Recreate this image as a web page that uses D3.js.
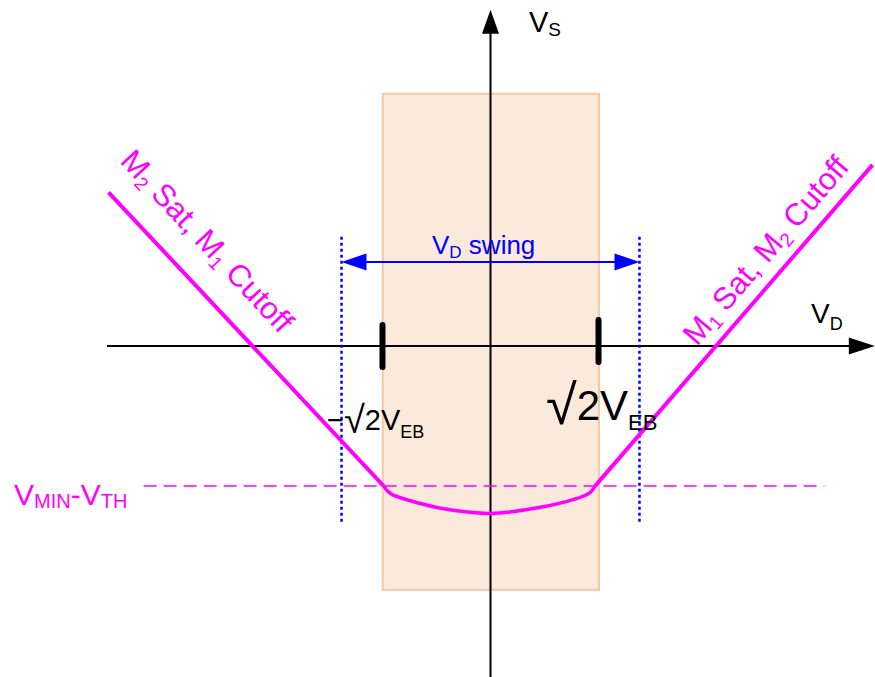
<!DOCTYPE html>
<html>
<head>
<meta charset="utf-8">
<script src="https://cdn.jsdelivr.net/npm/d3@7"></script>
<style>
  html, body { margin: 0; padding: 0; background: #ffffff; }
  svg { display: block; }
</style>
</head>
<body>
<svg id="chart" width="875" height="677"></svg>
<script>
// Transfer characteristic V_S versus V_D, in units of V_EB.

// Axis extents (data units)
const vdAxis = [-5.02, 5.03];
const vsAxis = [-4.33, 4.40];

// Overdrive markers at ±√2·V_EB
const vebTicks = [-1.414, 1.414];

// Shaded operating band (both devices saturated)
const bandVD = [-1.41, 1.42];
const bandVS = [-3.19, 3.30];

// Limits of the usable V_D swing and the swing arrow level
const swingLimits = [-1.95, 1.95];
const swingSpanVS = [-2.30, 1.43];
const swingArrowVS = 1.10;

// V_MIN - V_TH level and the extent of its guide line
const vminLevel = -1.83;
const vminGuide = [-4.54, 4.37];

// Branch where M2 is saturated and M1 is cut off
const branchM2 = [[-5.0, 2.01], [-1.40, -1.83]];
// Branch where M1 is saturated and M2 is cut off
const branchM1 = [[1.37, -1.83], [5.0, 2.37]];
// Region where both devices conduct
const bothOn = [
  [-1.40, -1.83], [-1.31, -1.93], [-0.92, -2.06], [-0.49, -2.15],
  [0.00, -2.19], [0.60, -2.12], [1.08, -2.01], [1.30, -1.92], [1.37, -1.83]
];

const FONT = "'Liberation Sans', Arial, Helvetica, sans-serif";
const MAGENTA = "#ff00ff";
const BLUE = "#0000ff";

const svg = d3.select("#chart");
const x = d3.scaleLinear().domain([-5, 5]).range([108.5, 872.5]);
const y = d3.scaleLinear().domain([-4.33, 4.33]).range([677, 15]);

// Helper: text built from runs; a run may be a subscript or carry its own size/shift
function richText(parent, px, py, runs, opts) {
  const t = parent.append("text")
    .attr("x", px).attr("y", py)
    .attr("font-family", FONT)
    .attr("fill", opts.color || "#000")
    .attr("font-size", opts.size);
  if (opts.transform) t.attr("transform", opts.transform).attr("x", 0).attr("y", 0);
  let shift = 0;
  runs.forEach(r => {
    const s = t.append("tspan").text(r.t);
    const want = r.sub ? (opts.subShift || 6) : (r.shift || 0);
    if (want !== shift) { s.attr("dy", want - shift); shift = want; }
    s.attr("font-size", r.sub ? (opts.subSize || opts.size * 0.62) : (r.size || opts.size));
  });
  return t;
}

// Shaded band
svg.append("rect")
  .attr("x", x(bandVD[0]))
  .attr("y", y(bandVS[1]))
  .attr("width", x(bandVD[1]) - x(bandVD[0]))
  .attr("height", y(bandVS[0]) - y(bandVS[1]))
  .attr("fill", "#fbe9dc")
  .attr("stroke", "#f8c8a0")
  .attr("stroke-width", 2);

// Axes with filled arrowheads
const axes = svg.append("g").attr("stroke", "#000").attr("stroke-width", 2);
axes.append("line")
  .attr("x1", x(vdAxis[0])).attr("x2", x(vdAxis[1]) - 20)
  .attr("y1", y(0)).attr("y2", y(0));
axes.append("line")
  .attr("x1", x(0)).attr("x2", x(0))
  .attr("y1", y(vsAxis[0])).attr("y2", y(vsAxis[1]) + 18);
svg.append("path")
  .attr("d", `M${x(vdAxis[1])},${y(0)} L${x(vdAxis[1]) - 26},${y(0) - 8.5} L${x(vdAxis[1]) - 26},${y(0) + 8.5}Z`)
  .attr("fill", "#000");
svg.append("path")
  .attr("d", `M${x(0)},${y(vsAxis[1])} L${x(0) - 8.5},${y(vsAxis[1]) + 24} L${x(0) + 8.5},${y(vsAxis[1]) + 24}Z`)
  .attr("fill", "#000");

// V_MIN - V_TH guide
svg.append("line")
  .attr("x1", x(vminGuide[0])).attr("x2", x(vminGuide[1]))
  .attr("y1", y(vminLevel)).attr("y2", y(vminLevel))
  .attr("stroke", MAGENTA).attr("stroke-width", 1.5)
  .attr("stroke-dasharray", "13,7");

// Swing limits (dotted)
svg.selectAll("line.limit").data(swingLimits).join("line")
  .attr("class", "limit")
  .attr("x1", d => x(d)).attr("x2", d => x(d))
  .attr("y1", y(swingSpanVS[1])).attr("y2", y(swingSpanVS[0]))
  .attr("stroke", BLUE).attr("stroke-width", 2.5)
  .attr("stroke-dasharray", "3,3");

// Swing arrow
const ay = y(swingArrowVS);
const ax0 = x(swingLimits[0]), ax1 = x(swingLimits[1]);
svg.append("line")
  .attr("x1", ax0 + 20).attr("x2", ax1 - 20)
  .attr("y1", ay).attr("y2", ay)
  .attr("stroke", BLUE).attr("stroke-width", 2);
svg.append("path")
  .attr("d", `M${ax0},${ay} L${ax0 + 25},${ay - 8.5} L${ax0 + 25},${ay + 8.5}Z`)
  .attr("fill", BLUE);
svg.append("path")
  .attr("d", `M${ax1},${ay} L${ax1 - 25},${ay - 8.5} L${ax1 - 25},${ay + 8.5}Z`)
  .attr("fill", BLUE);

// Characteristic
const line = d3.line().x(d => x(d[0])).y(d => y(d[1]));
const curve = d3.line().x(d => x(d[0])).y(d => y(d[1])).curve(d3.curveCatmullRom.alpha(0.5));
const ch = svg.append("g").attr("fill", "none").attr("stroke", MAGENTA)
  .attr("stroke-width", 4).attr("stroke-linejoin", "round").attr("stroke-linecap", "butt");
ch.append("path").attr("d", line(branchM2));
ch.append("path").attr("d", line(branchM1));
ch.append("path").attr("d", curve(bothOn)).attr("stroke-width", 3.5);

// Overdrive tick marks
const tickOffsets = [[-21, 21], [-26, 16]];
svg.selectAll("line.veb").data(vebTicks).join("line")
  .attr("class", "veb")
  .attr("x1", d => x(d)).attr("x2", d => x(d))
  .attr("y1", (d, i) => y(0) + tickOffsets[i][0])
  .attr("y2", (d, i) => y(0) + tickOffsets[i][1])
  .attr("stroke", "#000").attr("stroke-width", 6).attr("stroke-linecap", "round");

// Axis titles
richText(svg, 529, 32, [{ t: "V" }, { t: "S", sub: true }], { size: 29, subSize: 19, subShift: 4 });
richText(svg, 811, 323, [{ t: "V" }, { t: "D", sub: true }], { size: 28, subSize: 18, subShift: 7 });

// Swing label
richText(svg, 432, 254, [{ t: "V" }, { t: "D", sub: true }, { t: " swing" }],
  { size: 26, subSize: 17, subShift: 4, color: BLUE });

// V_MIN - V_TH label
richText(svg, 14, 505, [{ t: "V" }, { t: "MIN", sub: true }, { t: "-V" }, { t: "TH", sub: true }],
  { size: 30, subSize: 20, subShift: 3, color: MAGENTA });

// Tick labels (radical drawn a size up so it spans the digit)
richText(svg, 327, 430, [{ t: "\u2212" }, { t: "\u221A", size: 38, shift: 3 }, { t: "2V" }, { t: "EB", sub: true }],
  { size: 29, subSize: 18, subShift: 8 });
richText(svg, 546, 420, [{ t: "\u221A", size: 56, shift: 4 }, { t: "2V" }, { t: "EB", sub: true }],
  { size: 42, subSize: 22, subShift: 10 });

// Region labels along the branches
richText(svg, 0, 0, [{ t: "M" }, { t: "2", sub: true }, { t: " Sat, M" }, { t: "1", sub: true }, { t: " Cutoff" }],
  { size: 31, subSize: 19, subShift: 5, color: MAGENTA, transform: "translate(119,162) rotate(47)" });
richText(svg, 0, 0, [{ t: "M" }, { t: "1", sub: true }, { t: " Sat, M" }, { t: "2", sub: true }, { t: " Cutoff" }],
  { size: 31, subSize: 19, subShift: 5, color: MAGENTA, transform: "translate(697,347) rotate(-49.5)" });
</script>
</body>
</html>
